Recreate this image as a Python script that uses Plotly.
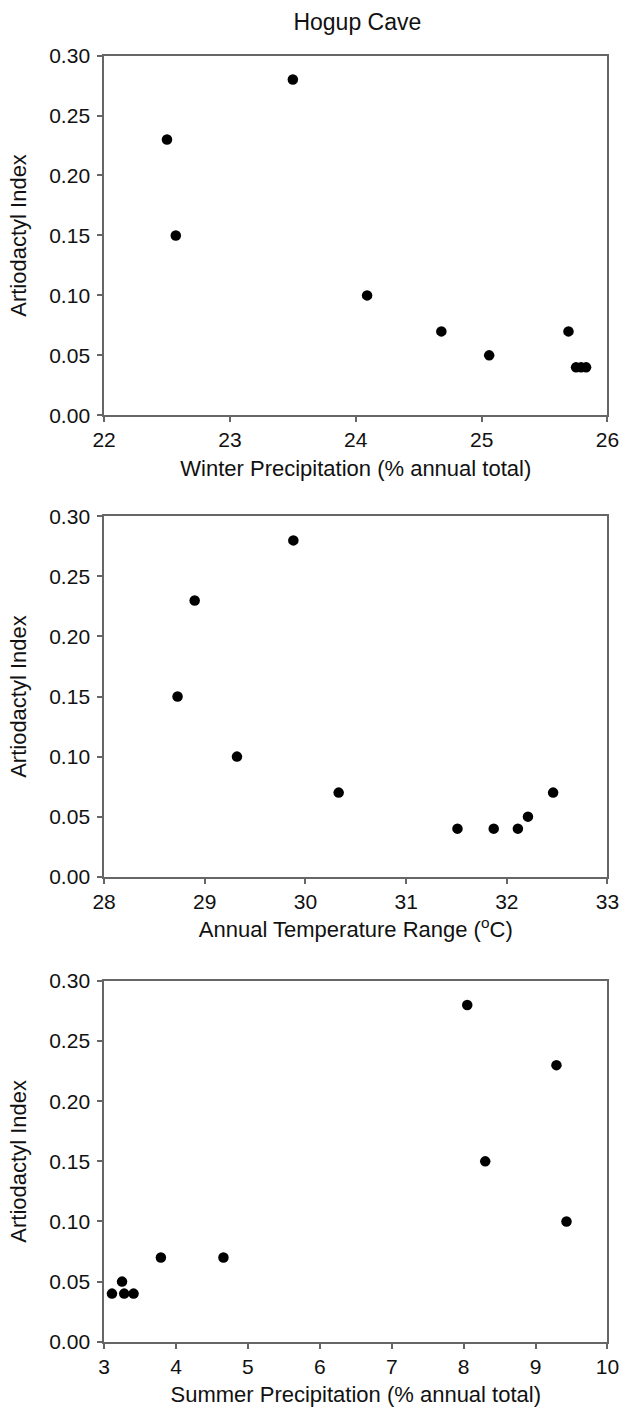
import plotly.graph_objects as go
from plotly.subplots import make_subplots

# Artiodactyl index at Hogup Cave against three climate variables
artiodactyl_index = [0.28, 0.23, 0.15, 0.10, 0.07, 0.05, 0.07, 0.04, 0.04, 0.04]

winter_precip = [23.50, 22.50, 22.57, 24.09, 24.68, 25.06, 25.69, 25.75, 25.79, 25.83]

temp_range = [29.88, 28.90, 28.73, 29.32, 30.33, 32.21, 32.46, 31.51, 31.87, 32.11]

summer_precip = [8.05, 9.29, 8.30, 9.43, 3.79, 3.25, 4.66, 3.11, 3.28, 3.41]

x_titles = [
    "Winter Precipitation (% annual total)",
    "Annual Temperature Range (<sup>o</sup>C)",
    "Summer Precipitation (% annual total)",
]
x_ranges = [[22, 26], [28, 33], [3, 10]]
x_dticks = [1, 1, 1]
y_ticks = [0.00, 0.05, 0.10, 0.15, 0.20, 0.25, 0.30]
y_tick_labels = ["0.00", "0.05", "0.10", "0.15", "0.20", "0.25", "0.30"]

W, H = 632, 1414
FONT = "Liberation Sans, Arial, sans-serif"
AXIS_GREY = "#666666"
TEXT = "#111111"

fig = make_subplots(rows=3, cols=1)

# panel frames in pixels: (top, bottom)
frames = [(44.3, 410.0), (512.7, 879.0), (985.0, 1351.7)]
left_px, right_px = 95.7, 619.0

for i, xs in enumerate([winter_precip, temp_range, summer_precip]):
    fig.add_trace(
        go.Scatter(
            x=xs,
            y=artiodactyl_index,
            mode="markers",
            marker=dict(color="black", size=10.5, line=dict(width=0)),
            showlegend=False,
        ),
        row=i + 1,
        col=1,
    )

for i, (top, bottom) in enumerate(frames):
    n = "" if i == 0 else str(i + 1)
    fig.layout["xaxis" + n].update(
        domain=[left_px / W, right_px / W],
        range=x_ranges[i],
        dtick=x_dticks[i],
        tick0=x_ranges[i][0],
        showgrid=False,
        zeroline=False,
        showline=True,
        mirror=True,
        linecolor=AXIS_GREY,
        linewidth=1.6,
        ticks="outside",
        ticklen=5,
        tickwidth=1.5,
        tickcolor=AXIS_GREY,
        tickfont=dict(family=FONT, size=21, color=TEXT),
        ticklabelstandoff=0,
        title=dict(text=x_titles[i], font=dict(family=FONT, size=22, color=TEXT), standoff=10),
    )
    fig.layout["yaxis" + n].update(
        domain=[1 - bottom / H, 1 - top / H],
        range=[0, 0.30],
        tickvals=y_ticks,
        ticktext=y_tick_labels,
        showgrid=False,
        zeroline=False,
        showline=True,
        mirror=True,
        linecolor=AXIS_GREY,
        linewidth=1.6,
        ticks="outside",
        ticklen=5,
        tickwidth=1.5,
        tickcolor=AXIS_GREY,
        tickfont=dict(family=FONT, size=21, color=TEXT),
        ticklabelstandoff=3,
        title=dict(text="Artiodactyl Index", font=dict(family=FONT, size=22, color=TEXT), standoff=16),
    )

fig.update_layout(
    width=W,
    height=H,
    margin=dict(l=0, r=0, t=0, b=0),
    paper_bgcolor="white",
    plot_bgcolor="white",
    title=dict(
        text="Hogup Cave",
        x=(left_px + right_px) / 2 / W,
        xanchor="center",
        y=1 - 21.7 / H,
        yanchor="middle",
        font=dict(family=FONT, size=23, color=TEXT),
    ),
)

fig.write_html("out.html")
